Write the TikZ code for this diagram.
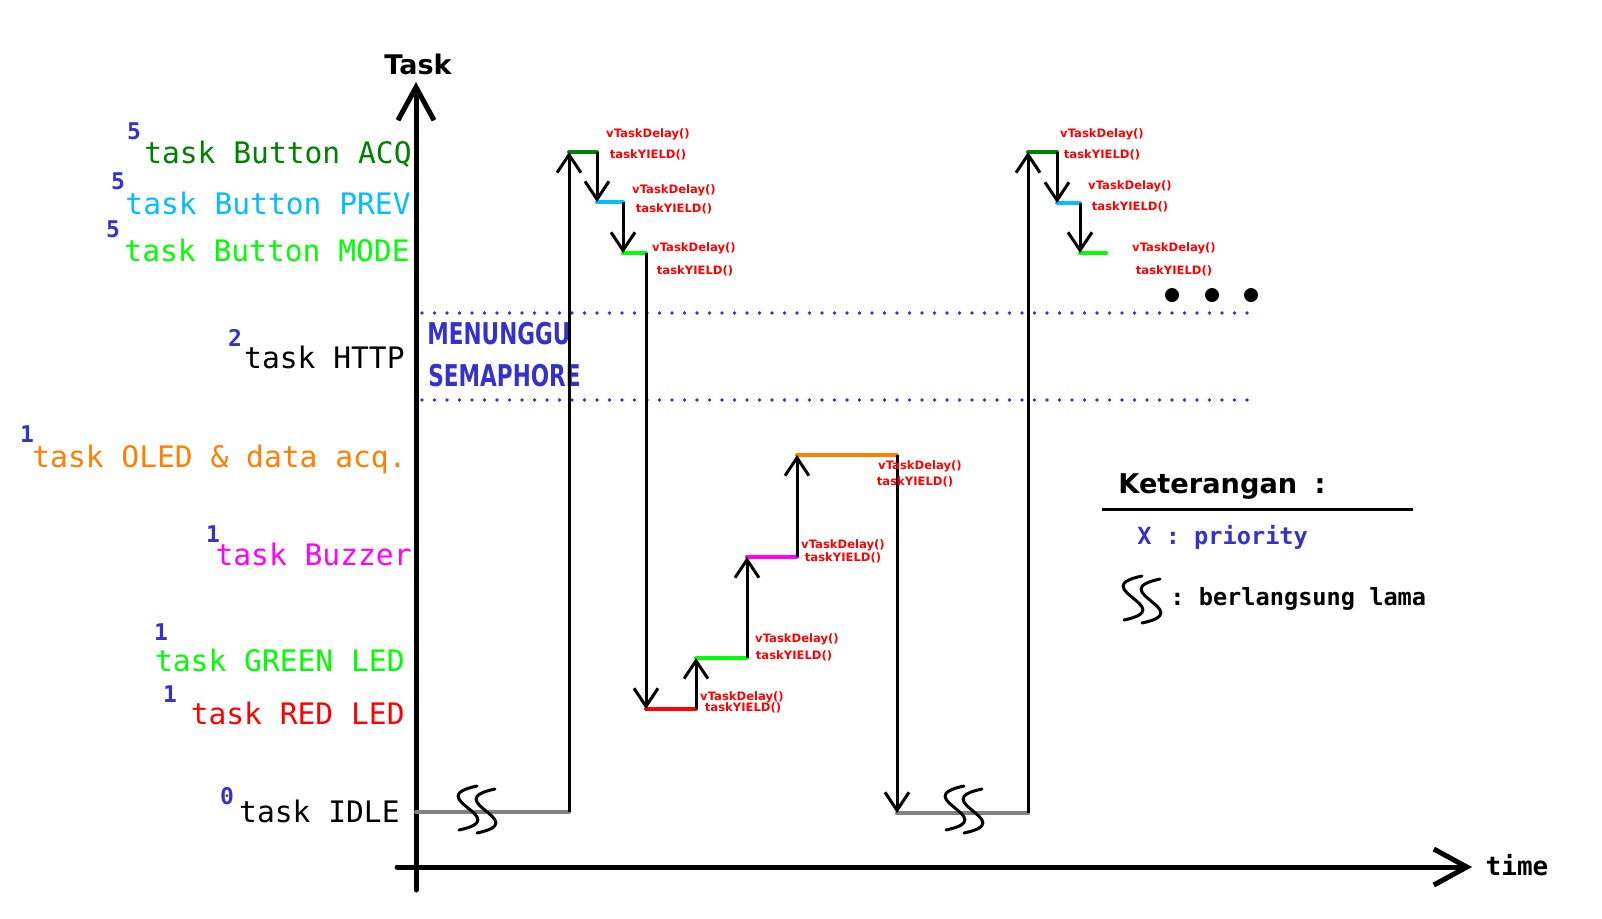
\documentclass[tikz,border=0pt]{standalone}
\usepackage{fontspec}
\setmainfont{DejaVu Sans}
\setmonofont{DejaVu Sans Mono}
\newfontfamily\semafont{DejaVu Sans}[FakeStretch=0.72]
\usepackage{xcolor}
\usetikzlibrary{positioning, arrows.meta}

\definecolor{acqgreen}{HTML}{008000}
\definecolor{prevblue}{HTML}{00BFFF}
\definecolor{limegreen}{HTML}{00FF00}
\definecolor{oledorange}{HTML}{FF7F00}
\definecolor{buzzmag}{HTML}{FF00FF}
\definecolor{idlegray}{HTML}{808080}
\definecolor{prioblue}{HTML}{3333CC}

\begin{document}
\begin{tikzpicture}[
    x=0.5pt, y=-0.5pt,
    tasklbl/.style={font=\fontsize{14.8}{16}\selectfont\ttfamily, anchor=base east, inner sep=0pt},
    prio/.style={font=\fontsize{11.5}{13}\selectfont\ttfamily\bfseries, text=prioblue, inner sep=0pt},
    call/.style={font=\fontsize{5.8}{7}\selectfont\bfseries, text=red, inner sep=0pt},
    run/.style={line width=2pt, line cap=round},
    sw/.style={line width=1.5pt, -{Straight Barb[length=9pt,width=12pt]}},
    axis/.style={line width=2.5pt, line cap=round, -{Straight Barb[length=16.5pt,width=18pt]}},
    sema/.style={prioblue, line width=1.9pt, line cap=round, dash pattern=on 0pt off 6.25pt},
    dot/.style={circle, fill, inner sep=0pt, minimum size=7pt},
    squig/.pic={\draw[line width=1.5pt, line cap=round] (9,-22) .. controls (-48,-10) and (48,10) .. (-9,22);}
  ]
  \useasboundingbox (0,0) rectangle (1602,918);

  % axes
  \coordinate (o) at (416,890);
  \coordinate (ytip) at (416,82);
  \coordinate (xs) at (397,867);
  \coordinate (xtip) at (1472,867);
  \draw[axis] (o) -- (ytip);
  \draw[axis] (xs) -- (xtip);
  \node[font=\fontsize{13.5}{16}\selectfont\bfseries] (tasktxt) at (418,64) {Task};
  \node[font=\fontsize{13}{15}\selectfont\ttfamily\bfseries] (timetxt) at (1517,865) {time};

  % task names
  \node[tasklbl, text=acqgreen] (lacq) at (412,163) {task Button ACQ};
  \node[tasklbl, text=prevblue] (lprev) at (411,214) {task Button PREV};
  \node[tasklbl, text=limegreen] (lmode) at (410,261) {task Button MODE};
  \node[tasklbl] (lhttp) at (405,368) {task HTTP};
  \node[tasklbl, text=oledorange] (loled) at (407,467) {task OLED \& data acq.};
  \node[tasklbl, text=buzzmag] (lbuzz) at (412,565) {task Buzzer};
  \node[tasklbl, text=limegreen] (lgreen) at (405,671) {task GREEN LED};
  \node[tasklbl, text=red] (lred) at (405,724) {task RED LED};
  \node[tasklbl] (lidle) at (400,822) {task IDLE};

  % priorities
  \node[prio] (pacq) at (134,131) {5};
  \node[prio] (pprev) at (118,181) {5};
  \node[prio] (pmode) at (113,229) {5};
  \node[prio] (phttp) at (235,338) {2};
  \node[prio] (poled) at (27,434) {1};
  \node[prio] (pbuzz) at (213,534) {1};
  \node[prio] (pgreen) at (161,632) {1};
  \node[prio] (pred) at (170,694) {1};
  \node[prio] (pidle) at (227,796) {0};

  % semaphore band
  \coordinate (sl1) at (422,313);
  \coordinate (sr1) at (1253,313);
  \coordinate (sl2) at (422,400);
  \coordinate (sr2) at (1253,400);
  \draw[sema] (sl1) -- (sr1);
  \draw[sema] (sl2) -- (sr2);
  \node[anchor=west, inner sep=0pt, text=prioblue, font=\fontsize{15}{18}\selectfont\semafont\bfseries] (menunggu) at (427,334) {MENUNGGU};
  \node[anchor=west, inner sep=0pt, text=prioblue, font=\fontsize{15}{18}\selectfont\semafont\bfseries] (semaphore) at (428,376) {SEMAPHORE};

  % step points
  \coordinate (i1s) at (416,812);  \coordinate (i1e) at (569,812);
  \coordinate (a1s) at (569,152);  \coordinate (a1e) at (597,152);
  \coordinate (p1s) at (597,202);  \coordinate (p1e) at (623,202);
  \coordinate (m1s) at (623,253);  \coordinate (m1e) at (646,253);
  \coordinate (r1s) at (646,709);  \coordinate (r1e) at (696,709);
  \coordinate (g1s) at (696,658);  \coordinate (g1e) at (747,658);
  \coordinate (b1s) at (747,557);  \coordinate (b1e) at (797,557);
  \coordinate (o1s) at (797,455);  \coordinate (o1e) at (897,455);
  \coordinate (i2s) at (897,813);  \coordinate (i2e) at (1028,813);
  \coordinate (a2s) at (1028,152); \coordinate (a2e) at (1057,152);
  \coordinate (p2s) at (1057,203); \coordinate (p2e) at (1080,203);
  \coordinate (m2s) at (1080,253); \coordinate (m2e) at (1106,253);

  % running tasks
  \draw[run, idlegray] (i1s) -- (i1e);
  \draw[run, acqgreen] (a1s) -- (a1e);
  \draw[run, prevblue] (p1s) -- (p1e);
  \draw[run, limegreen] (m1s) -- (m1e);
  \draw[run, red] (r1s) -- (r1e);
  \draw[run, limegreen] (g1s) -- (g1e);
  \draw[run, buzzmag] (b1s) -- (b1e);
  \draw[run, oledorange] (o1s) -- (o1e);
  \draw[run, idlegray] (i2s) -- (i2e);
  \draw[run, acqgreen] (a2s) -- (a2e);
  \draw[run, prevblue] (p2s) -- (p2e);
  \draw[run, limegreen] (m2s) -- (m2e);

  % context switches
  \draw[sw] (i1e) -- (a1s);
  \draw[sw] (a1e) -- (p1s);
  \draw[sw] (p1e) -- (m1s);
  \draw[sw] (m1e) -- (r1s);
  \draw[sw] (r1e) -- (g1s);
  \draw[sw] (g1e) -- (b1s);
  \draw[sw] (b1e) -- (o1s);
  \draw[sw] (o1e) -- (i2s);
  \draw[sw] (i2e) -- (a2s);
  \draw[sw] (a2e) -- (p2s);
  \draw[sw] (p2e) -- (m2s);

  % long idle
  \pic at (468,808) {squig};
  \pic at (486,811) {squig};
  \pic at (955,808) {squig};
  \pic at (973,811) {squig};

  % calls
  \node[call] (d1) at (648,134) {vTaskDelay()};
  \node[call] (y1) at (648,155) {taskYIELD()};
  \node[call] (d2) at (674,190) {vTaskDelay()};
  \node[call] (y2) at (674,209) {taskYIELD()};
  \node[call] (d3) at (694,248) {vTaskDelay()};
  \node[call] (y3) at (695,271) {taskYIELD()};
  \node[call] (d4) at (742,697) {vTaskDelay()};
  \node[call] (y4) at (743,708) {taskYIELD()};
  \node[call] (d5) at (797,639) {vTaskDelay()};
  \node[call] (y5) at (794,656) {taskYIELD()};
  \node[call] (d6) at (843,545) {vTaskDelay()};
  \node[call] (y6) at (843,558) {taskYIELD()};
  \node[call] (d7) at (920,466) {vTaskDelay()};
  \node[call] (y7) at (915,482) {taskYIELD()};
  \node[call] (d8) at (1102,134) {vTaskDelay()};
  \node[call] (y8) at (1102,155) {taskYIELD()};
  \node[call] (d9) at (1130,186) {vTaskDelay()};
  \node[call] (y9) at (1130,207) {taskYIELD()};
  \node[call] (d10) at (1174,248) {vTaskDelay()};
  \node[call] (y10) at (1174,271) {taskYIELD()};

  % and so on
  \node[dot] (e1) at (1172,295) {};
  \node[dot] (e2) at (1212,295) {};
  \node[dot] (e3) at (1251,295) {};

  % legend
  \node[anchor=base west, inner sep=0pt, font=\fontsize{13.6}{16}\selectfont\bfseries] (ket) at (1118,493) {Keterangan\hspace{4pt} :};
  \coordinate (k1) at (1102,509);
  \coordinate (k2) at (1413,509);
  \draw[line width=1.5pt] (k1) -- (k2);
  \node[anchor=base west, inner sep=0pt, text=prioblue, font=\fontsize{11.8}{14}\selectfont\ttfamily\bfseries] (kprio) at (1137,544) {X : priority};
  \pic at (1133,598) {squig};
  \pic at (1151,601) {squig};
  \node[anchor=base west, inner sep=0pt, font=\fontsize{11.8}{14}\selectfont\ttfamily\bfseries] (klama) at (1170,605) {: berlangsung lama};
\end{tikzpicture}
\end{document}
